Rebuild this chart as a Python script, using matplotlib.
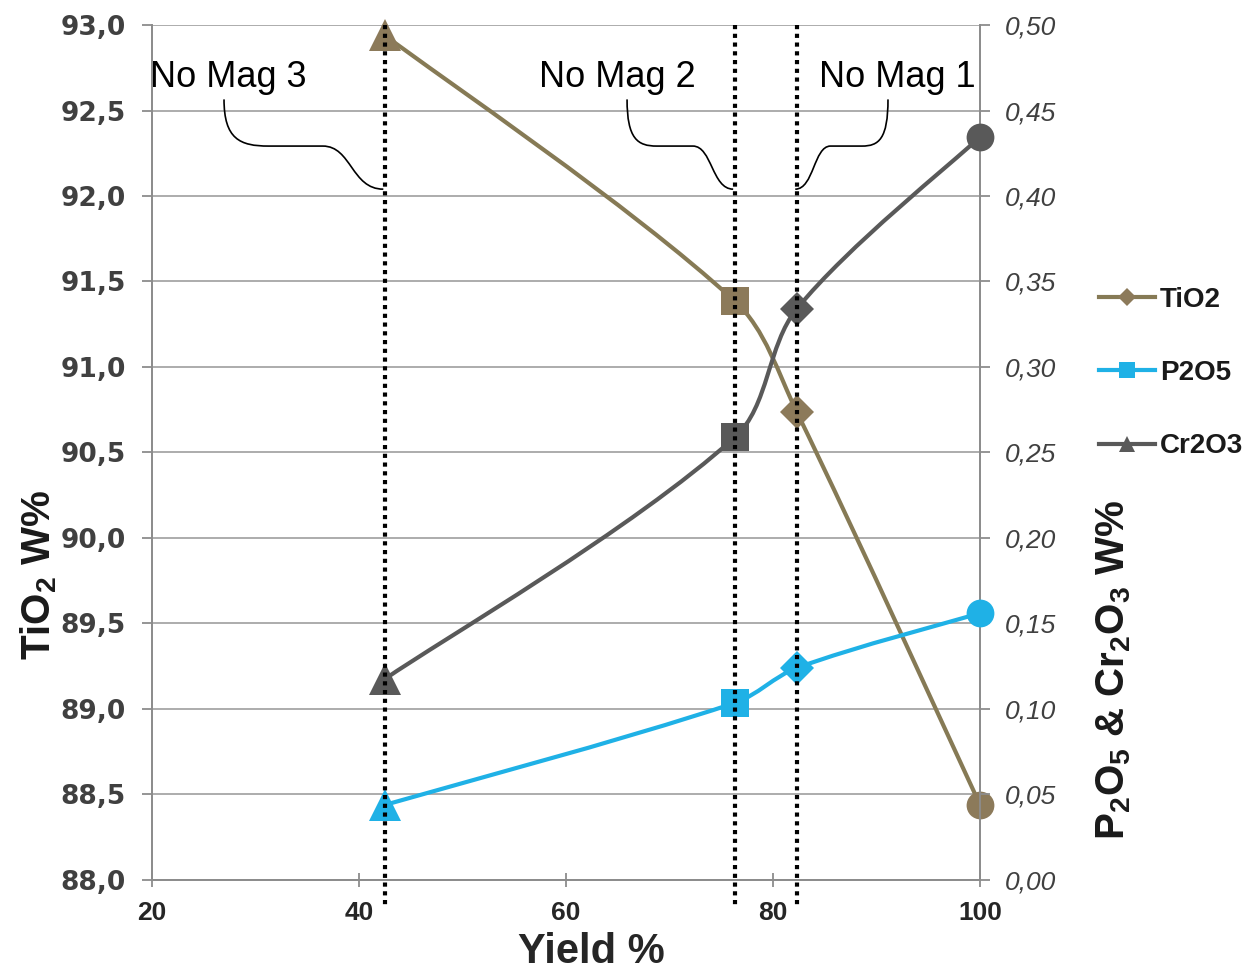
import numpy as np
import matplotlib
matplotlib.use("Agg")
import matplotlib.pyplot as plt
from matplotlib.path import Path
from matplotlib.patches import PathPatch
from matplotlib.lines import Line2D

plt.rcParams['font.family'] = ['Liberation Sans', 'DejaVu Sans']
plt.rcParams['mathtext.fontset'] = 'custom'
plt.rcParams['mathtext.rm'] = 'Liberation Sans'
plt.rcParams['mathtext.bf'] = 'Liberation Sans:bold'
plt.rcParams['mathtext.it'] = 'Liberation Sans:italic'

# ---- data ----
yield_pct = [42.5, 76.3, 82.3, 100.0]
tio2 = [92.94, 91.386, 90.737, 88.44]
p2o5 = [0.0439, 0.1035, 0.124, 0.156]
cr2o3 = [0.1175, 0.2588, 0.334, 0.4345]
point_markers = ['^', 's', 'D', 'o']
marker_sizes = [23, 20, 17, 20]

stage_names = ['No Mag 3', 'No Mag 2', 'No Mag 1']
stage_yield = [42.5, 76.3, 82.3]

x_ticks = [20, 40, 60, 80, 100]
left_ticks = [88.0, 88.5, 89.0, 89.5, 90.0, 90.5, 91.0, 91.5, 92.0, 92.5, 93.0]
right_ticks = [0.00, 0.05, 0.10, 0.15, 0.20, 0.25, 0.30, 0.35, 0.40, 0.45, 0.50]

C_TIO2_LINE = '#867A55'
C_TIO2 = '#8C7A5A'
C_P2O5 = '#1FB1E6'
C_CR2O3 = '#595959'
C_GRID = '#A6A6A6'
C_TICK = '#404040'
C_SPINE = '#8C8C8C'

FIG_W, FIG_H = 12.54, 9.73
AX_RECT = [0.1212, 0.0956, 0.6603, 0.8787]


def smooth_path(ax, xs, ys, tension=1 / 3):
    """Smoothed line through the points, as chord-length weighted cubic Beziers
    computed in screen proportions so that short segments do not overshoot."""
    x0, x1 = ax.get_xlim()
    y0, y1 = ax.get_ylim()
    w = FIG_W * AX_RECT[2]
    h = FIG_H * AX_RECT[3]
    sx = w / (x1 - x0)
    sy = h / (y1 - y0)
    P = np.column_stack([(np.asarray(xs) - x0) * sx, (np.asarray(ys) - y0) * sy])
    n = len(P)

    def pt(i):
        return P[min(max(i, 0), n - 1)]

    verts = [P[0]]
    codes = [Path.MOVETO]
    for i in range(n - 1):
        p0, p1, p2, p3 = pt(i - 1), pt(i), pt(i + 1), pt(i + 2)
        d01 = np.linalg.norm(p1 - p0)
        d12 = np.linalg.norm(p2 - p1)
        d23 = np.linalg.norm(p3 - p2)
        f1 = d12 / (d01 + d12) if d01 > 0 else 0.5
        f2 = d12 / (d12 + d23) if d23 > 0 else 0.5
        c1 = p1 + tension * (p2 - p0) * f1
        c2 = p2 - tension * (p3 - p1) * f2
        verts += [c1, c2, p2]
        codes += [Path.CURVE4] * 3
    V = np.array(verts)
    V[:, 0] = V[:, 0] / sx + x0
    V[:, 1] = V[:, 1] / sy + y0
    return Path(V, codes)


def brace(ax, x0, y0, x1, y1, ym):
    """Curly connector from a label (x0, y0) down to a stage line at (x1, y1)."""
    d = x1 - x0
    verts = [(x0, y0),
             (x0, ym + 0.15 * (y0 - ym)), (x0 + 0.10 * d, ym), (x0 + 0.28 * d, ym),
             (x0 + 0.62 * d, ym),
             (x0 + 0.80 * d, ym), (x0 + 0.80 * d, y1), (x1, y1)]
    codes = [Path.MOVETO, Path.CURVE4, Path.CURVE4, Path.CURVE4, Path.LINETO,
             Path.CURVE4, Path.CURVE4, Path.CURVE4]
    ax.add_patch(PathPatch(Path(verts, codes), fc='none', ec='black', lw=1.2,
                           zorder=6, clip_on=False))


fig = plt.figure(figsize=(FIG_W, FIG_H), dpi=100)
ax = fig.add_axes(AX_RECT)
ax2 = ax.twinx()

ax.set_xlim(20, 100)
ax.set_ylim(88, 93)
ax2.set_ylim(0, 0.5)

# grid
ax.set_yticks(left_ticks)
ax.grid(axis='y', color=C_GRID, lw=1.3)
ax.set_axisbelow(True)

# series lines
ax.add_patch(PathPatch(smooth_path(ax, yield_pct, tio2), fc='none', ec=C_TIO2_LINE,
                       lw=3, zorder=3, capstyle='round'))
ax2.add_patch(PathPatch(smooth_path(ax2, yield_pct, cr2o3), fc='none', ec=C_CR2O3,
                        lw=3, zorder=3, capstyle='round'))
ax2.add_patch(PathPatch(smooth_path(ax2, yield_pct, p2o5), fc='none', ec=C_P2O5,
                        lw=3, zorder=3, capstyle='round'))

# markers, one shape per stage
for x, yt, yp, yc, m, ms in zip(yield_pct, tio2, p2o5, cr2o3, point_markers, marker_sizes):
    ax.plot([x], [yt], marker=m, ms=ms, color=C_TIO2, ls='none', zorder=4, mew=0,
            clip_on=False)
    ax2.plot([x], [yc], marker=m, ms=ms, color=C_CR2O3, ls='none', zorder=4, mew=0,
             clip_on=False)
    ax2.plot([x], [yp], marker=m, ms=ms, color=C_P2O5, ls='none', zorder=4, mew=0,
             clip_on=False)

# stage lines
trans = ax2.get_xaxis_transform()
for xs in stage_yield:
    ax2.plot([xs, xs], [1.0, -0.029], transform=trans, color='black', lw=3,
             ls=(0, (1, 1.1)), dash_capstyle='butt', zorder=5, clip_on=False)

# stage labels with connectors
label_x = [27.34, 64.93, 91.98]
brace_x0 = [26.96, 65.9, 91.11]
for name, lx, bx, xs in zip(stage_names, label_x, brace_x0, stage_yield):
    ax.text(lx, 92.637, name, fontsize=26, ha='center', va='baseline',
            color='black', zorder=6)
    brace(ax, bx, 92.565, xs - 0.15, 92.04, 92.292)

# axes styling
for a in (ax, ax2):
    a.spines['top'].set_visible(False)
    for s in ('left', 'right', 'bottom'):
        a.spines[s].set_color(C_SPINE)
        a.spines[s].set_linewidth(1.3)

ax.set_xticks(x_ticks)
ax.set_xticklabels([str(v) for v in x_ticks], fontsize=19, fontweight='bold',
                   color='#262626')
ax.tick_params(axis='x', direction='inout', length=10, width=1.3, color=C_SPINE, pad=10)

ax.set_yticklabels([f'{v:.1f}'.replace('.', ',') for v in left_ticks], fontsize=19,
                   fontweight='bold', color=C_TICK, family='DejaVu Sans')
ax.tick_params(axis='y', direction='out', length=7, width=1.3, color=C_SPINE, pad=12)

ax2.set_yticks(right_ticks)
ax2.set_yticklabels([f'{v:.2f}'.replace('.', ',') for v in right_ticks], fontsize=19,
                    fontstyle='italic', color=C_TICK)
ax2.tick_params(axis='y', direction='out', length=7, width=1.3, color=C_SPINE, pad=11)

# axis titles
ax.set_xlabel('Yield %', fontsize=30, fontweight='bold', color='#262626')
ax.xaxis.label.set_va('center')
ax.xaxis.set_label_coords(0.531, -0.084)
ax.set_ylabel(r'$\mathbf{TiO_2\ W\%}$', fontsize=29, color='#1a1a1a')
ax.yaxis.label.set_va('center')
ax.yaxis.set_label_coords(-0.1365, 0.357)
ax2.set_ylabel(r'$\mathbf{P_2O_5\ &\ Cr_2O_3\ W\%}$', fontsize=29, color='#1a1a1a',
               rotation=90, va='center')
ax2.yaxis.set_label_coords(1.161, 0.2456)

# legend
handles = [
    Line2D([], [], color=C_TIO2_LINE, lw=3, marker='D', ms=9, mfc=C_TIO2, mew=0),
    Line2D([], [], color=C_P2O5, lw=3, marker='s', ms=11, mfc=C_P2O5, mew=0),
    Line2D([], [], color=C_CR2O3, lw=3, marker='^', ms=11, mfc=C_CR2O3, mew=0),
]
leg = fig.legend(handles, ['TiO2', 'P2O5', 'Cr2O3'], loc='upper left',
                 bbox_to_anchor=(1099 / 1254, 1 - 287 / 973), frameon=False,
                 handlelength=2.0, handletextpad=0.2, labelspacing=1.7,
                 borderpad=0, borderaxespad=0,
                 prop={'size': 20, 'weight': 'bold'})
for t in leg.get_texts():
    t.set_color('#1a1a1a')

fig.savefig('out.png', dpi=100)
